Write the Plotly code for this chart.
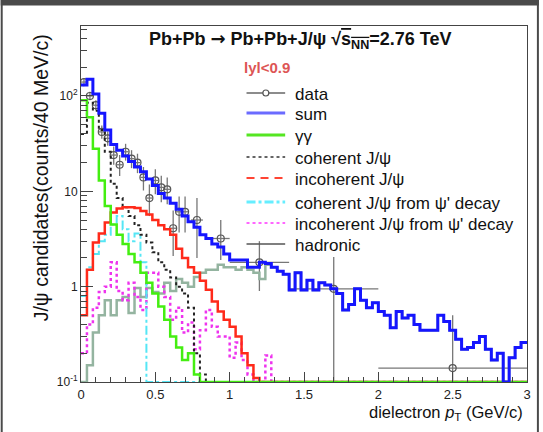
import plotly.graph_objects as go

# ---------------- data ----------------
BIN_WIDTH = 0.04
N_BINS = 75
X_MAX = 3.0

sum_vals = [130, 150, 105, 66, 44, 31, 27, 23.5, 20.5, 18, 16, 13.5, 11.5, 9.5, 8.5,
            7.5, 6.5, 5.5, 4.8, 4.2, 3.5, 3.2, 2.8, 2.6, 2.2, 1.9, 1.9, 1.9, 1.6, 1.6,
            1.8, 1.75, 1.6, 1.45, 1.35, 0.92, 1.4, 0.92, 1.17, 0.92, 1.1, 1.04, 0.95, 0.85, 0.57,
            0.65, 0.95, 0.72, 0.6, 0.68, 0.55, 0.5, 0.37, 0.55, 0.47, 0.5, 0.4, 0.35, 0.35, 0.35,
            0.5, 0.43, 0.35, 0.28, 0.22, 0.23, 0.26, 0.3, 0.22, 0.17, 0.2, 0, 0.18, 0.23, 0.26]

gg_vals = [90, 60, 28, 13, 7, 4.5, 3.5, 2.8, 2.2, 1.8, 1.4, 1.1, 0.85, 0.62, 0.45,
           0.3, 0.23, 0.17, 0.2, 0.12] + [0] * 55

coh_vals = [40, 85, 70, 44, 26, 12, 8.5, 6.8, 5.5, 4.4, 3.5, 2.9, 2.3, 1.8, 1.5,
            1.25, 1.0, 0.85, 0.6, 0.2, 0.12] + [0] * 54

incoh_vals = [0.5, 1.5, 2.9, 3.6, 4.7, 6.0, 6.6, 6.8, 6.8, 6.7, 6.2, 5.7, 5.0, 4.4, 4.0,
              3.5, 2.5, 2.0, 1.6, 1.4, 1.15, 0.93, 0.7, 0.55, 0.45, 0.38, 0.3, 0.2, 0.15, 0.11] + [0] * 45

coh_psi2s_vals = [0.8, 1.6, 2.2, 3.0, 3.5, 4.5, 5.5, 4.0, 3.0, 3.6, 1.8] + [0] * 64

incoh_psi2s_vals = [0.2, 0.4, 0.6, 0.88, 1.0, 1.8, 0.9, 0.72, 1.1, 0.78, 0.57, 1.4, 1.4, 1.0, 0.78,
                    0.45, 0.6, 0.33, 0.42, 0.22, 0.35, 0.57, 0.38, 0.3, 0.3, 0.18, 0.26, 0.17, 0.12, 0,
                    0, 0.19] + [0] * 43

hadronic_vals = [0, 0.15, 0.33, 0.5, 0.72, 0.5, 0.72, 0.78, 0.53, 0.97, 0.78, 0.97, 0.88, 0.85, 1.1,
                 0.9, 1.2, 1.1, 1.0, 1.26, 1.4, 1.5, 1.5, 1.7, 1.6, 1.6, 1.5, 1.6, 1.5, 1.4,
                 1.2, 1.7, 1.6, 1.45, 1.35, 0.92, 1.4, 0.92, 1.17, 0.92, 1.1, 1.04, 0.95, 0.85, 0.57,
                 0.65, 0.95, 0.72, 0.6, 0.68, 0.55, 0.5, 0.37, 0.55, 0.47, 0.5, 0.4, 0.35, 0.35, 0.35,
                 0.5, 0.43, 0.35, 0.28, 0.22, 0.23, 0.26, 0.3, 0.22, 0.17, 0.2, 0, 0.18, 0.23, 0.26]

data_pt = [0.02, 0.06, 0.10, 0.14, 0.18, 0.22, 0.26, 0.30, 0.34, 0.38, 0.42, 0.46, 0.50,
           0.54, 0.58, 0.62, 0.66, 0.70, 0.78, 0.94, 1.20, 1.70, 2.50]
data_val = [140, 100, 80, 42, 36, 24, 19, 26, 22, 20, 14, 8.5, 13,
            11, 10.5, 4.1, 6.1, 6.1, 5.0, 3.2, 1.8, 0.95, 0.14]
data_xerr = [0.02] * 18 + [0.04, 0.06, 0.2, 0.3, 0.5]
data_err_hi = [13, 11, 10, 7, 6.5, 5.5, 5, 5.5, 5, 4.8, 4, 3.3, 4,
               3.6, 3.5, 2.2, 2.7, 2.7, 3.5, 1.8, 1.2, 1.1, 0.36]
data_err_lo = [12, 10, 9, 6.5, 6, 5, 4.5, 5, 4.5, 4.5, 3.8, 3, 3.7,
               3.3, 3.2, 2.0, 2.4, 2.4, 3.0, 1.3, 0.9, 0.95, 0.14]

legend_names = ["data", "sum", "γγ", "coherent J/ψ", "incoherent J/ψ",
                "coherent J/ψ from ψ' decay", "incoherent J/ψ from ψ' decay", "hadronic"]

y_tickvals = [0.1, 1, 10, 100]
y_ticktext = ["10<sup>-1</sup>", "1", "10", "10<sup>2</sup>"]

# ---------------- figure ----------------
YMIN = 0.1
YMAX = 542
FONT = "Liberation Sans, Arial, Helvetica, sans-serif"

edges = [round(i * BIN_WIDTH, 4) for i in range(N_BINS)] + [X_MAX]


def step(vals):
    y = [v if v > 0 else YMIN for v in vals]
    return edges, y + [y[-1]]


W, H = 543, 432
ML, MR, MT, MB = 81, 12, 26, 50
PW, PH = W - ML - MR, H - MT - MB


def px(xp):
    return (xp - ML) / PW


def py(yp):
    return (H - MB - yp) / PH


fig = go.Figure()

# data points
fig.add_trace(go.Scatter(
    x=data_pt, y=data_val, mode="markers", showlegend=False,
    marker=dict(symbol="circle-open", size=7, color="#555555", line=dict(width=1.2)),
    error_x=dict(type="data", array=data_xerr, color="#777777", thickness=1.3, width=0),
    error_y=dict(type="data", symmetric=False, array=data_err_hi, arrayminus=data_err_lo,
                 color="#777777", thickness=1.3, width=0),
))

hist_specs = [
    (hadronic_vals, dict(color="#94b4a0", width=2.5)),
    (incoh_psi2s_vals, dict(color="#ee33ee", width=2.5, dash="dot")),
    (coh_psi2s_vals, dict(color="#55e6f5", width=2, dash="dashdot")),
    (coh_vals, dict(color="#222222", width=2, dash="dot")),
    (incoh_vals, dict(color="#ff2a1a", width=2.5)),
    (gg_vals, dict(color="#44ee11", width=2.5)),
    (sum_vals, dict(color="#1515ff", width=3)),
]
for vals, line in hist_specs:
    xs, ys = step(vals)
    fig.add_trace(go.Scatter(x=xs, y=ys, mode="lines", line=dict(shape="hv", **line),
                             showlegend=False, hoverinfo="skip"))

# ---- legend (drawn as samples + labels) ----
legend_rows = [93, 113, 135, 157, 178, 202, 223, 244]
legend_lines = [
    dict(color="#666666", width=1.5),
    dict(color="#6b6bff", width=3),
    dict(color="#55e622", width=3),
    dict(color="#333333", width=1.5, dash="dot"),
    dict(color="#ff4433", width=1.8, dash="8px,6px"),
    dict(color="#66eeff", width=3, dash="dashdot"),
    dict(color="#ff66ff", width=2, dash="dot"),
    dict(color="#555555", width=1.5),
]
shapes = []
annotations = []
for name, row, line in zip(legend_names, legend_rows, legend_lines):
    shapes.append(dict(type="line", xref="paper", yref="paper", x0=px(248), x1=px(287),
                       y0=py(row), y1=py(row), line=line))
    annotations.append(dict(xref="paper", yref="paper", x=px(295), y=py(row + 1),
                            xanchor="left", yanchor="middle", showarrow=False, text=name,
                            font=dict(size=17, family=FONT, color="#111111")))
shapes.append(dict(type="circle", xref="paper", yref="paper", x0=px(264.5), x1=px(270.5),
                   y0=py(96), y1=py(90), fillcolor="white", line=dict(color="#555555", width=1.2)))

annotations += [
    dict(xref="paper", yref="paper", x=px(302), y=py(40), xanchor="center", yanchor="middle",
         showarrow=False,
         text="<b>Pb+Pb <span style='font-family:DejaVu Sans'>→</span> Pb+Pb+J/ψ "
              "√<span style='text-decoration:overline'>s<sub>NN</sub></span>=2.76 TeV</b>",
         font=dict(size=18, family=FONT, color="#111111")),
    dict(xref="paper", yref="paper", x=px(269), y=py(67), xanchor="center", yanchor="middle",
         showarrow=False, text="<b>lyl&lt;0.9</b>",
         font=dict(size=15, family=FONT, color="#dd5555")),
    dict(xref="paper", yref="paper", x=px(41), y=py(178), xanchor="center", yanchor="middle",
         showarrow=False, textangle=-90, text="J/ψ candidates(counts/40 MeV/c)",
         font=dict(size=19.5, family=FONT, color="#111111")),
    dict(xref="paper", yref="paper", x=px(529), y=py(413), xanchor="right", yanchor="middle",
         showarrow=False, text="dielectron <i>p</i><sub>T</sub> (GeV/c)",
         font=dict(size=16.5, family=FONT, color="#111111")),
]

shapes += [
    dict(type="rect", xref="paper", yref="paper", x0=px(0), x1=px(W), y0=py(5.5), y1=py(0),
         fillcolor="#4a4a4a", line=dict(width=0), layer="above"),
    dict(type="rect", xref="paper", yref="paper", x0=px(0), x1=px(2), y0=py(H), y1=py(0),
         fillcolor="#4a4a4a", line=dict(width=0), layer="above"),
    dict(type="rect", xref="paper", yref="paper", x0=px(W - 2), x1=px(W), y0=py(H), y1=py(0),
         fillcolor="#4a4a4a", line=dict(width=0), layer="above"),
]

fig.update_layout(
    width=W, height=H,
    margin=dict(l=ML, r=MR, t=MT, b=MB, pad=0),
    paper_bgcolor="white", plot_bgcolor="white",
    font=dict(family=FONT, color="#111111"),
    showlegend=False,
    xaxis=dict(range=[0, X_MAX], showgrid=False, zeroline=False,
               showline=True, linecolor="#444444", linewidth=1, mirror=True,
               ticks="inside", ticklen=10, tickcolor="#444444", dtick=0.5, tick0=0,
               tickfont=dict(size=13, family=FONT, color="#222222"),
               minor=dict(ticks="inside", ticklen=5, dtick=0.1, tickcolor="#444444", showgrid=False)),
    yaxis=dict(type="log", range=[-1, 2.734], showgrid=False, zeroline=False,
               showline=True, linecolor="#444444", linewidth=1, mirror=True,
               ticks="inside", ticklen=12, tickcolor="#444444",
               tickmode="array", tickvals=y_tickvals, ticktext=y_ticktext,
               tickfont=dict(size=12, family=FONT, color="#222222"),
               minor=dict(ticks="inside", ticklen=6, tickcolor="#444444", showgrid=False,
                          tickmode="array",
                          tickvals=[m * d for d in (0.1, 1, 10, 100) for m in range(2, 10) if m * d < YMAX])),
    annotations=annotations,
    shapes=shapes,
)

fig.write_html("out.html")
